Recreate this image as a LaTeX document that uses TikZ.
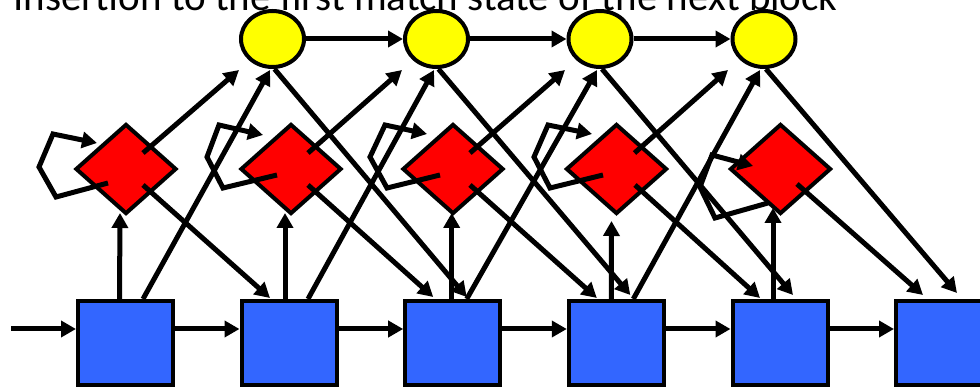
\documentclass[tikz,border=0pt]{standalone}
\usepackage{fontspec}
\setmainfont{Carlito}
\usetikzlibrary{shapes.geometric,arrows.meta,calc}
\definecolor{mblue}{RGB}{51,102,255}
\definecolor{ired}{RGB}{255,0,0}
\definecolor{dyel}{RGB}{255,255,0}
\tikzset{
  matchbox/.style={draw=black, line width=4pt, fill=mblue, minimum width=95pt, minimum height=84pt, inner sep=0pt},
  insbox/.style={draw=black, line width=4pt, fill=ired, diamond, aspect=1.1, minimum width=101pt, minimum height=90pt, inner sep=0pt},
  delbox/.style={draw=black, line width=4pt, fill=dyel, ellipse, minimum width=63pt, minimum height=56pt, inner sep=0pt},
  arr/.style={draw=black, line width=5pt, -{Triangle[length=15pt,width=16pt]}},
}
\begin{document}
\begin{tikzpicture}[x=1pt, y=-1pt]
\useasboundingbox (0,0) rectangle (980,387);
\node[anchor=base west, inner sep=0pt, font=\fontsize{41}{48}\selectfont] (title) at (13,10.5) {Insertion to the first match state of the next block};
% match states
\node[matchbox] (s1) at (125.5,343) {};
\node[matchbox] (s2) at (289,343) {};
\node[matchbox] (s3) at (452.7,343) {};
\node[matchbox] (s4) at (616.3,343) {};
\node[matchbox] (s5) at (780,343) {};
\node[matchbox] (s6) at (943.5,343) {};
% insert states
\node[insbox] (i1) at (126,169) {};
\node[insbox] (i2) at (291,169) {};
\node[insbox] (i3) at (453,169) {};
\node[insbox] (i4) at (616.5,169) {};
\node[insbox] (i5) at (780.5,169) {};
% delete states
\node[delbox] (e1) at (272.5,39) {};
\node[delbox] (e2) at (436.5,39) {};
\node[delbox] (e3) at (600,39) {};
\node[delbox] (e4) at (764,39) {};
% match chain
\coordinate (h) at (0,329);
\coordinate (start) at (11,329);
\draw[arr] (start) -- (s1.west |- h);
\draw[arr] (s1.east |- h) -- (s2.west |- h);
\draw[arr] (s2.east |- h) -- (s3.west |- h);
\draw[arr] (s3.east |- h) -- (s4.west |- h);
\draw[arr] (s4.east |- h) -- (s5.west |- h);
\draw[arr] (s5.east |- h) -- (s6.west |- h);
% delete chain
\draw[arr] (e1) -- (e2);
\draw[arr] (e2) -- (e3);
\draw[arr] (e3) -- (e4);
% match -> insert
\draw[arr] ($(s1.north)+(-6,0)$) -- ($(i1)+(-6,44)$);
\draw[arr] ($(s2.north)+(-4,0)$) -- ($(i2)+(-6,44)$);
\draw[arr] ($(s3.north)+(-1,0)$) -- ($(i3)+(-1.3,44)$);
\draw[arr] ($(s4.north)+(-5,0)$) -- ($(i4)+(-5,52)$);
\draw[arr] ($(s5.north)+(-7,4)$) -- ($(i5)+(-7.5,39)$);
% match -> delete
\draw[arr] ($(s1.north)+(17.5,0)$) -- ($(e1.south)+(-2.5,1)$);
\draw[arr] ($(s2.north)+(19,0)$) -- ($(e2.south)+(-2.5,1)$);
\draw[arr] ($(s3.north)+(14,0)$) -- ($(e3.south)+(-3,1)$);
\draw[arr] ($(s4.north)+(17,0)$) -- ($(e4.south)+(-4,1)$);
% insert -> delete
\draw[arr] ($(i1)+(17,-16)$) -- ($(e1)+(-33.5,31)$);
\draw[arr] ($(i2)+(17,-16)$) -- ($(e2)+(-34.5,31)$);
\draw[arr] ($(i3)+(17,-16)$) -- ($(e3)+(-35,31)$);
\draw[arr] ($(i4)+(18,-16)$) -- ($(e4)+(-36,31)$);
% insert -> match
\draw[arr] ($(i1)+(17,16)$) -- ($(s2.north)+(-19,-1)$);
\draw[arr] ($(i2)+(17,16)$) -- ($(s3.north)+(-19.5,-2)$);
\draw[arr] ($(i3)+(17,16)$) -- ($(s4.north)+(-19.5,-1)$);
\draw[arr] ($(i4)+(18.5,16)$) -- ($(s5.north)+(-20,-1)$);
\draw[arr] ($(i5)+(16.5,15)$) -- ($(s6.north)+(-20.5,-4)$);
% delete -> match
\draw[arr] ($(e1.south)+(2,0)$) -- ($(s3.north)+(14,-2)$);
\draw[arr] ($(e2.south)+(2,0)$) -- ($(s4.north)+(14,-4)$);
\draw[arr] ($(e3.south)+(2,0)$) -- ($(s5.north)+(13,-4)$);
\draw[arr] ($(e4.south)+(2,0)$) -- ($(s6.north)+(13.5,-6)$);
% self loops
\draw[arr] ($(i1)+(-18,14)$) -- ($(i1)+(-70,28)$) -- ($(i1)+(-87,-2)$) -- ($(i1)+(-73,-35)$) -- ($(i1)+(-29,-26)$);
\draw[arr] ($(i2)+(-14,6)$) -- ($(i2)+(-68,19)$) -- ($(i2)+(-84,-12)$) -- ($(i2)+(-72,-44)$) -- ($(i2)+(-28,-34)$);
\draw[arr] ($(i3)+(-13,6)$) -- ($(i3)+(-66,19)$) -- ($(i3)+(-83,-12)$) -- ($(i3)+(-68,-44)$) -- ($(i3)+(-26,-35)$);
\draw[arr] ($(i4)+(-13.5,6)$) -- ($(i4)+(-66.5,19)$) -- ($(i4)+(-82.5,-12)$) -- ($(i4)+(-68.5,-44)$) -- ($(i4)+(-24.5,-35)$);
\draw[arr] ($(i5)+(-12.5,34)$) -- ($(i5)+(-65.5,49)$) -- ($(i5)+(-80.5,18)$) -- ($(i5)+(-68.5,-14)$) -- ($(i5)+(-27.5,-3)$);
\end{tikzpicture}
\end{document}
